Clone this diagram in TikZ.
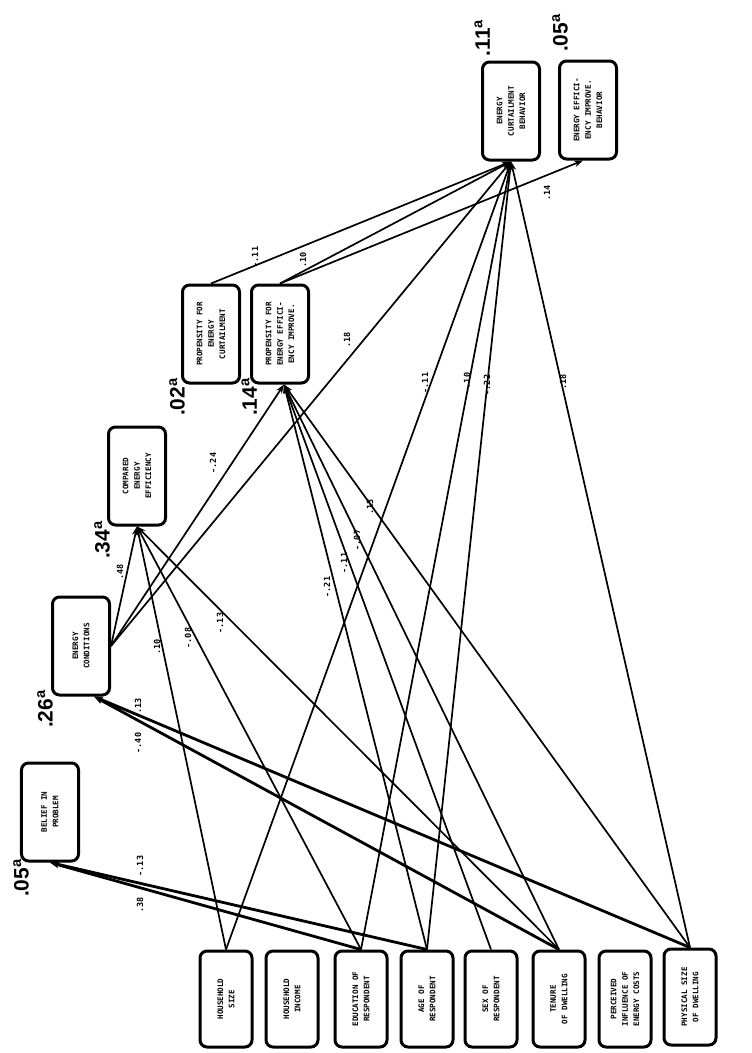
\documentclass[tikz,border=0pt]{standalone}
\usepackage{fontspec}
\setmainfont{Liberation Sans}
\newfontfamily\printfont{DejaVu Sans Mono}
\usetikzlibrary{arrows.meta}
\tikzset{
  varbox/.style={rectangle, draw=black, fill=white, rotate=90,
    rounded corners=7bp, line width=3bp, minimum width=96bp,
    minimum height=52bp, align=center, inner sep=1bp,
    font=\printfont\bfseries\fontsize{7.6}{11.5}\selectfont},
  wide/.style={minimum width=98bp, minimum height=57bp},
  arrow/.style={-{Stealth[length=9bp,width=6.5bp]}, line width=1.7bp},
  heavyarrow/.style={arrow, line width=2.8bp},
  coef/.style={rotate=90, inner sep=0pt,
    font=\printfont\bfseries\fontsize{8.5}{8.5}\selectfont},
  rsq/.style={rotate=90, inner sep=0pt, anchor=south,
    font=\bfseries\fontsize{21}{21}\selectfont}
}
\begin{document}
\begin{tikzpicture}[x=1bp, y=1bp]
  \useasboundingbox (0,0) rectangle (752,-1053);
  % exogenous variables
  \node[varbox] (hsize) at (226,-999) {HOUSEHOLD\\SIZE};
  \node[varbox] (hinc) at (292,-999) {HOUSEHOLD\\INCOME};
  \node[varbox] (educ) at (361,-999) {EDUCATION OF\\RESPONDENT};
  \node[varbox] (age) at (427,-999) {AGE OF\\RESPONDENT};
  \node[varbox] (sex) at (491,-999) {SEX OF\\RESPONDENT};
  \node[varbox] (tenure) at (559,-999) {TENURE\\OF DWELLING};
  \node[varbox] (percv) at (625,-999) {PERCEIVED\\INFLUENCE OF\\ENERGY COSTS};
  \node[varbox] (physz) at (690,-997) {PHYSICAL SIZE\\OF DWELLING};
  % endogenous variables
  \node[varbox, wide] (belief) at (50,-812) {BELIEF IN\\PROBLEM};
  \node[varbox, wide] (econd) at (81,-646) {ENERGY\\CONDITIONS};
  \node[varbox, wide] (compeff) at (137,-476) {COMPARED\\ENERGY\\EFFICIENCY};
  \node[varbox, wide] (propcurt) at (211,-334) {PROPENSITY FOR\\ENERGY\\CURTAILMENT};
  \node[varbox, wide] (propeff) at (280,-334) {PROPENSITY FOR\\ENERGY EFFICI-\\ENCY IMPROVE.};
  \node[varbox, wide] (curtbeh) at (511,-111) {ENERGY\\CURTAILMENT\\BEHAVIOR};
  \node[varbox, wide] (effbeh) at (588,-110) {ENERGY EFFICI-\\ENCY IMPROVE.\\BEHAVIOR};
  % explained variance
  \node[rsq] (rbelief) at (29,-878) {.05\textsuperscript{a}};
  \node[rsq] (recond) at (53,-709) {.26\textsuperscript{a}};
  \node[rsq] (rcompeff) at (110,-540) {.34\textsuperscript{a}};
  \node[rsq] (rpropcurt) at (185,-397) {.02\textsuperscript{a}};
  \node[rsq] (rpropeff) at (257,-397) {.14\textsuperscript{a}};
  \node[rsq] (rcurtbeh) at (490,-38) {.11\textsuperscript{a}};
  \node[rsq] (reffbeh) at (568,-33) {.05\textsuperscript{a}};
  % paths to belief in problem
  \draw[heavyarrow] (educ.east) -- (belief.west);
  \draw[heavyarrow] (age.east) -- (belief.west);
  \node[coef] (k1) at (140,-905) {.38};
  \node[coef] (k2) at (140,-866) {-.13};
  % paths to energy conditions
  \draw[heavyarrow] (physz.east) -- ([xshift=13bp]econd.west);
  \draw[heavyarrow] (tenure.east) -- ([xshift=13bp]econd.west);
  \node[coef] (k3) at (138,-706) {.13};
  \node[coef] (k4) at (138,-743) {-.40};
  % paths to compared energy efficiency
  \draw[arrow] (econd.south) -- (compeff.west);
  \draw[arrow] (hsize.east) -- (compeff.west);
  \draw[arrow] (educ.east) -- (compeff.west);
  \draw[arrow] (tenure.east) -- (compeff.west);
  \node[coef] (k5) at (120,-572) {.48};
  \node[coef] (k6) at (157,-647) {.10};
  \node[coef] (k7) at (188,-638) {-.08};
  \node[coef] (k8) at (220,-623) {-.13};
  % paths to propensity for efficiency improvement
  \draw[arrow] (econd.south) -- ([xshift=4bp]propeff.west);
  \draw[arrow] (age.east) -- ([xshift=4bp]propeff.west);
  \draw[arrow] (sex.east) -- ([xshift=4bp]propeff.west);
  \draw[arrow] (tenure.east) -- ([xshift=4bp]propeff.west);
  \draw[arrow] (physz.east) -- ([xshift=4bp]propeff.west);
  \node[coef] (k9) at (213,-463) {-.24};
  \node[coef] (k10) at (327,-587) {-.21};
  \node[coef] (k11) at (344,-563) {-.11};
  \node[coef] (k12) at (357,-540) {-.07};
  \node[coef] (k13) at (370,-507) {.13};
  % paths to curtailment behavior
  \draw[arrow] (econd.south) -- (curtbeh.west);
  \draw[arrow] (hsize.east) -- (curtbeh.west);
  \draw[arrow] (educ.east) -- (curtbeh.west);
  \draw[arrow] (age.east) -- (curtbeh.west);
  \draw[arrow] (physz.east) -- (curtbeh.west);
  \draw[arrow] (propcurt.east) -- (curtbeh.west);
  \draw[arrow] (propeff.east) -- (curtbeh.west);
  \node[coef] (k14) at (347,-340) {.18};
  \node[coef] (k15) at (425,-383) {-.11};
  \node[coef] (k16) at (467,-383) {-.10};
  \node[coef] (k17) at (487,-385) {-.22};
  \node[coef] (k18) at (563,-382) {.18};
  \node[coef] (k19) at (255,-257) {-.11};
  \node[coef] (k20) at (303,-260) {.10};
  % path to efficiency improvement behavior
  \draw[arrow] (propeff.east) -- ([xshift=-5bp]effbeh.west);
  \node[coef] (k21) at (547,-193) {.14};
\end{tikzpicture}
\end{document}
